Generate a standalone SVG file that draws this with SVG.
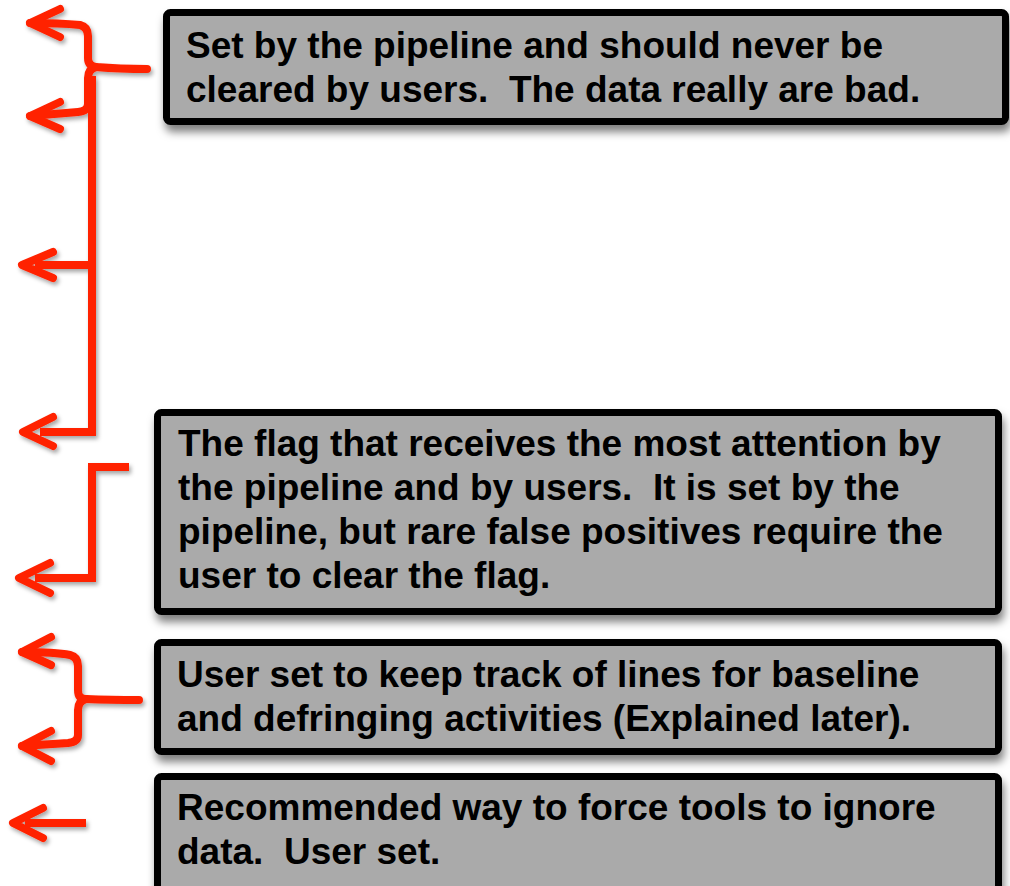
<svg xmlns="http://www.w3.org/2000/svg" width="1010" height="886" viewBox="0 0 1010 886">
<defs>
<filter id="boxShadow" x="-5%" y="-10%" width="115%" height="130%">
<feDropShadow dx="2" dy="7" stdDeviation="4" flood-color="#000" flood-opacity="0.5"/>
</filter>
<filter id="redShadow" x="-20%" y="-20%" width="150%" height="150%">
<feDropShadow dx="2" dy="3" stdDeviation="2" flood-color="#000" flood-opacity="0.35"/>
</filter>
<style>
.box{fill:#aaaaaa;stroke:#000;stroke-width:7;filter:url(#boxShadow)}
.txt{font-family:"Liberation Sans",Arial,sans-serif;font-weight:bold;font-size:37px;fill:#000;white-space:pre}
.red{fill:none;stroke:#ff2200;stroke-width:8;stroke-linecap:round;stroke-linejoin:round}
.redsq{fill:none;stroke:#ff2200;stroke-width:8;stroke-linecap:butt;stroke-linejoin:miter}
</style>
</defs>
<rect width="1010" height="886" fill="#fff"/>

<g id="connectors" filter="url(#redShadow)">
<path class="red" d="M30,23 C55,23 70,24 80,25 Q88,27 88,36 L88,58 Q88,66 96,67 Q120,69 147,69"/>
<path class="red" d="M96,67 Q88,69 88,78 L88,104 Q88,111 78,112 L30,116"/>
<path class="red" d="M60,9 L30,23 L60,37"/>
<path class="red" d="M60,102 L30,116 L60,129"/>
<path class="redsq" d="M92,76 L92,432 L40,432"/>
<path class="redsq" d="M92,265 L35,265"/>
<path class="red" d="M53,252 L22,265 L53,278"/>
<path class="red" d="M53,417 L23,432 L53,446"/>
<path class="redsq" d="M129,467 L92,467 L92,578 L35,578"/>
<path class="red" d="M50,563 L19,578 L50,593"/>
<path class="red" d="M22,652 C45,652 60,653 70,655 Q78,657 78,666 L78,690 Q78,699 86,699 Q110,700 139,700"/>
<path class="red" d="M86,699 Q78,701 78,710 L78,735 Q78,742 68,743 L22,746"/>
<path class="red" d="M51,637 L22,652 L51,665"/>
<path class="red" d="M51,731 L22,746 L51,761"/>
<path class="redsq" d="M86,823 L25,823"/>
<path class="red" d="M43,808 L13,823 L43,838"/>
</g>

<g id="node1">
<rect class="box" x="166.5" y="12.5" width="839" height="109" rx="4"/>
<text class="txt" x="186" y="58" xml:space="preserve">Set by the pipeline and should never be</text>
<text class="txt" x="186" y="102" xml:space="preserve">cleared by users.  The data really are bad.</text>
</g>

<g id="node2">
<rect class="box" x="157.5" y="412.5" width="841" height="199" rx="4"/>
<text class="txt" x="178" y="456" xml:space="preserve">The flag that receives the most attention by</text>
<text class="txt" x="178" y="500" xml:space="preserve">the pipeline and by users.  It is set by the</text>
<text class="txt" x="178" y="544" xml:space="preserve">pipeline, but rare false positives require the</text>
<text class="txt" x="178" y="588" xml:space="preserve">user to clear the flag.</text>
</g>

<g id="node3">
<rect class="box" x="157.5" y="642.5" width="841" height="109" rx="4"/>
<text class="txt" x="177" y="687" xml:space="preserve">User set to keep track of lines for baseline</text>
<text class="txt" x="177" y="731" xml:space="preserve">and defringing activities (Explained later).</text>
</g>

<g id="node4">
<rect class="box" x="157.5" y="776.5" width="841" height="122" rx="4"/>
<text class="txt" x="177" y="820" xml:space="preserve">Recommended way to force tools to ignore</text>
<text class="txt" x="177" y="864" xml:space="preserve">data.  User set.</text>
</g>
</svg>
